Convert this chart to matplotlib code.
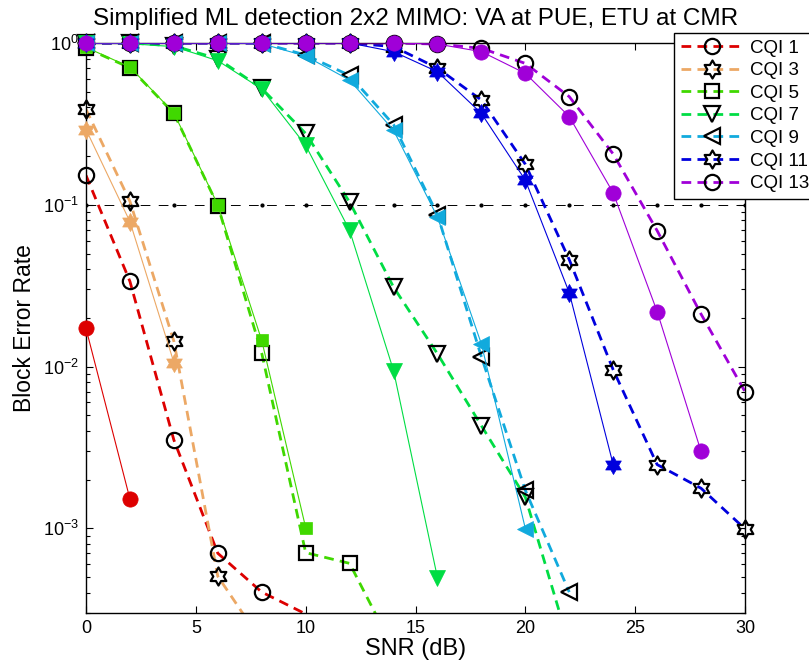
import numpy as np
import matplotlib
matplotlib.use("Agg")
import matplotlib.pyplot as plt
from matplotlib.path import Path
from matplotlib.lines import Line2D

plt.rcParams["font.family"] = ["Liberation Sans", "DejaVu Sans"]
plt.rcParams["mathtext.fontset"] = "custom"
plt.rcParams["mathtext.rm"] = "Liberation Sans"
plt.rcParams["mathtext.default"] = "regular"
plt.rcParams["lines.scale_dashes"] = False

# values (SNR in dB -> block error rate)
snr = [0, 2, 4, 6, 8, 10, 12, 14, 16, 18, 20, 22, 24, 26, 28, 30]
labels = ["CQI 1", "CQI 3", "CQI 5", "CQI 7", "CQI 9", "CQI 11", "CQI 13"]

# solid thin lines, filled markers
bler_cqi1 = [0.0172, 0.00152]
bler_cqi3 = [0.292, 0.0787, 0.0106]
bler_cqi5 = [0.94, 0.71, 0.37, 0.10, 0.0145, 0.00101]
bler_cqi7 = [1.0, 0.99, 0.95, 0.777, 0.52, 0.233, 0.0695, 0.00945, 0.000496]
bler_cqi9 = [1.0, 1.0, 1.0, 1.0, 0.99, 0.83, 0.59, 0.289, 0.084, 0.0138, 0.000998]
bler_cqi11 = [1.0, 1.0, 1.0, 1.0, 1.0, 1.0, 1.0, 0.884, 0.664, 0.367, 0.142, 0.0286, 0.00248]
bler_cqi13 = [1.0, 1.0, 1.0, 1.0, 1.0, 1.0, 1.0, 1.0, 0.985, 0.884, 0.649, 0.351, 0.1185, 0.0219, 0.00299]

# thick dashed lines, open black markers
dash_cqi1 = [0.152, 0.0336, 0.00352, 0.000702, 0.000404, 0.000296]
dash_cqi3 = [0.389, 0.105, 0.01435, 0.000506, 0.0002]
dash_cqi5 = [0.93, 0.703, 0.367, 0.0989, 0.0121, 0.000708, 0.000608, 0.00018]
dash_cqi7 = [1.0, 1.0, 0.96, 0.80, 0.524, 0.276, 0.104, 0.031, 0.012, 0.00431, 0.00156, 0.00019]
dash_cqi9 = [1.0, 1.0, 1.0, 1.0, 1.0, 0.843, 0.63, 0.313, 0.0869, 0.0115, 0.00172, 0.000404]
dash_cqi11 = [1.0, 1.0, 1.0, 1.0, 1.0, 1.0, 1.0, 0.95, 0.70, 0.444, 0.178, 0.0458, 0.00955, 0.00248, 0.00177, 0.000993]
dash_cqi13 = [1.0, 1.0, 1.0, 1.0, 1.0, 1.0, 1.0, 1.0, 0.985, 0.927, 0.748, 0.466, 0.206, 0.0692, 0.0211, 0.0070]

target_bler = 0.1

colors = ["#dd0000", "#eca865", "#40d800", "#00dd44", "#11aadd", "#0000dd", "#a000d8"]

# six pointed star like matlab's 'h'
ang = np.pi / 2 + np.arange(12) * np.pi / 6
rad = np.where(np.arange(12) % 2 == 0, 1.0, 1 / np.sqrt(3))
verts = np.column_stack([rad * np.cos(ang), rad * np.sin(ang)])
hexagram = Path(np.vstack([verts, verts[:1]]), closed=True)

markers = ["o", hexagram, "s", "v", "<", hexagram, "o"]
open_ms = [11, 13, 10.5, 12, 12, 13, 11]
fill_ms = [11, 13, 9, 12, 12, 13, 11]

solid = [bler_cqi1, bler_cqi3, bler_cqi5, bler_cqi7, bler_cqi9, bler_cqi11, bler_cqi13]
dashed = [dash_cqi1, dash_cqi3, dash_cqi5, dash_cqi7, dash_cqi9, dash_cqi11, dash_cqi13]

ymin, ymax = 3e-4, 1.0
dash_pat = (0, (7, 4.5))

fig = plt.figure(figsize=(8.09, 6.68), dpi=100)
ax = fig.add_axes([86 / 809, 1 - 613 / 668, (745 - 86) / 809, (613 - 43) / 668])
ax.set_yscale("log")

def in_range(y):
    y = np.asarray(y)
    return (y >= ymin * 0.999) & (y <= ymax * 1.001)

handles = []
for i in range(len(labels)):
    x = np.array(snr[:len(dashed[i])])
    y = np.array(dashed[i])
    ax.plot(x, y, color=colors[i], lw=2, linestyle=dash_pat, zorder=2)
    m = in_range(y)
    ax.plot(x[m], y[m], linestyle="none", marker=markers[i], ms=open_ms[i],
            mfc="none", mec="k", mew=1.6, clip_on=False, zorder=3)
    handles.append(Line2D([], [], color=colors[i], lw=2, linestyle=dash_pat,
                          marker=markers[i], ms=open_ms[i], mfc="none", mec="k", mew=1.6))

for i in range(len(labels)):
    x = np.array(snr[:len(solid[i])])
    y = np.array(solid[i])
    ax.plot(x, y, color=colors[i], lw=0.8, zorder=4)
    m = in_range(y)
    ax.plot(x[m], y[m], linestyle="none", marker=markers[i], ms=fill_ms[i],
            mfc=colors[i], mec=colors[i], mew=0.5, clip_on=False, zorder=5)

# 10% BLER reference
ax.plot(snr, [target_bler] * len(snr), color="k", lw=0.7, linestyle=(0, (7, 6)),
        marker=".", ms=4, zorder=1)

ax.set_xlim(0, 30)
ax.set_ylim(ymin, ymax)
ax.set_xticks([0, 5, 10, 15, 20, 25, 30])
ax.tick_params(which="both", direction="in", top=True, right=True, labelsize=13)
ax.tick_params(which="major", length=5, width=0.8, pad=5)
ax.tick_params(which="minor", length=3, width=0.8)
for s in ax.spines.values():
    s.set_linewidth(1.0)

ax.set_title("Simplified ML detection 2x2 MIMO: VA at PUE, ETU at CMR", fontsize=17.5, pad=13)
ax.set_xlabel("SNR (dB)", fontsize=17, labelpad=1)
ax.set_ylabel("Block Error Rate", fontsize=16.5, labelpad=5)

leg = fig.legend(handles, labels, loc="upper left", bbox_to_anchor=(674 / 809, 1 - 33 / 668),
                 bbox_transform=fig.transFigure, borderaxespad=0, fontsize=13.5,
                 handlelength=3.4, handletextpad=0.3, labelspacing=0.29,
                 borderpad=0.35, fancybox=False, framealpha=1, edgecolor="k")
leg.get_frame().set_linewidth(1.0)

fig.savefig("out.png", dpi=100)
